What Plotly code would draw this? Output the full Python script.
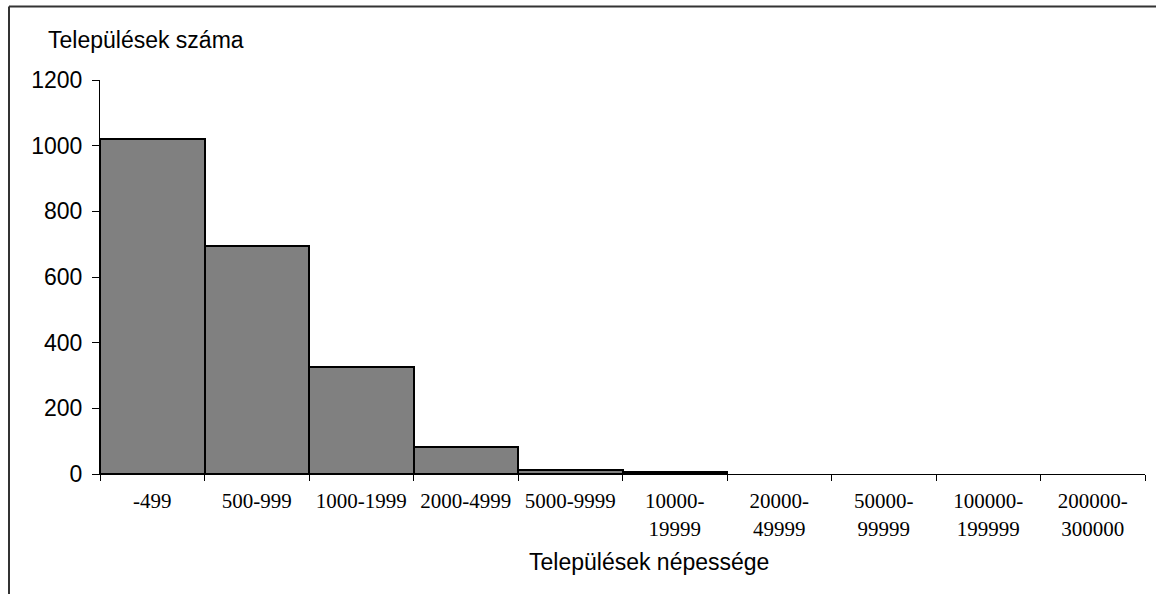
import plotly.graph_objects as go

categories = ["-499", "500-999", "1000-1999", "2000-4999", "5000-9999",
              "10000-19999", "20000-49999", "50000-99999", "100000-199999", "200000-300000"]
tick_labels = ["-499", "500-999", "1000-1999", "2000-4999", "5000-9999",
               "10000-<br>19999", "20000-<br>49999", "50000-<br>99999",
               "100000-<br>199999", "200000-<br>300000"]
counts = [1021, 695, 327, 82, 11, 5, 0, 0, 0, 0]
y_ticks = [0, 200, 400, 600, 800, 1000, 1200]

W, H = 1156, 594
L, R, T, B = 100, 11, 80, 120
pw, ph = W - L - R, H - T - B

def px_x(p):
    return (p - L) / pw

def px_y(p):
    return (H - B - p) / ph

fig = go.Figure()
fig.add_trace(go.Bar(
    x=categories, y=counts,
    marker=dict(color="#808080",
                line=dict(color="black", width=[2 if v > 0 else 0 for v in counts])),
    width=1.0,
))

fig.update_layout(
    width=W, height=H,
    margin=dict(l=L, r=R, t=T, b=B, pad=0),
    paper_bgcolor="white", plot_bgcolor="white",
    showlegend=False, bargap=0,
    xaxis=dict(
        type="category", tickmode="array", tickvals=categories, ticktext=tick_labels,
        tickson="boundaries", ticks="outside", ticklen=6, tickcolor="black",
        showline=True, linecolor="black", linewidth=1, showgrid=False, zeroline=False,
        tickfont=dict(family="Liberation Serif, Times New Roman, serif", size=21, color="black"),
        ticklabelstandoff=8,
        range=[-0.5, 9.5],
    ),
    yaxis=dict(
        range=[0, 1200], tickvals=y_ticks, ticks="outside", ticklen=7, tickcolor="black",
        showline=True, linecolor="black", linewidth=1, showgrid=False, zeroline=False,
        tickfont=dict(family="Liberation Sans, Arial, sans-serif", size=23, color="black"),
        ticklabelstandoff=5,
    ),
    annotations=[
        dict(text="Települések száma", xref="paper", yref="paper",
             x=px_x(46), y=px_y(40), xanchor="left", yanchor="middle", showarrow=False,
             font=dict(family="Liberation Sans, Arial, sans-serif", size=23, color="black")),
        dict(text="Települések népessége", xref="paper", yref="paper",
             x=px_x(649), y=px_y(562), xanchor="center", yanchor="middle", showarrow=False,
             font=dict(family="Liberation Sans, Arial, sans-serif", size=23, color="black")),
    ],
    shapes=[
        dict(type="line", xref="paper", yref="paper", x0=px_x(9), x1=px_x(1160),
             y0=px_y(6.5), y1=px_y(6.5), line=dict(color="#333333", width=2)),
        dict(type="line", xref="paper", yref="paper", x0=px_x(9), x1=px_x(9),
             y0=px_y(6.5), y1=px_y(600), line=dict(color="#333333", width=2)),
    ],
)

fig.write_html("out.html")
